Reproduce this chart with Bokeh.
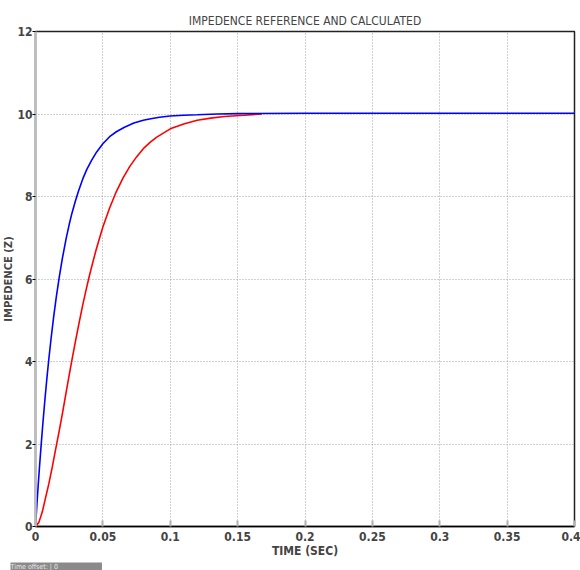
from bokeh.plotting import figure
from bokeh.models import Range1d, FixedTicker, Title
from bokeh.embed import file_html
from bokeh.resources import INLINE

# Data
t_calc = [0, 0.001, 0.002, 0.003, 0.0042, 0.0055, 0.007, 0.0085, 0.0098, 0.0115,
          0.0135, 0.0155, 0.0176, 0.02, 0.0228, 0.025, 0.027, 0.0295, 0.0318, 0.035,
          0.038, 0.0415, 0.0454, 0.05, 0.055, 0.06, 0.066, 0.073, 0.08, 0.0846,
          0.092, 0.1, 0.11, 0.12, 0.135, 0.15, 0.2, 0.3, 0.4]
z_calc = [0, 0.51, 1.0, 1.46, 1.98, 2.51, 3.08, 3.61, 4.03, 4.54,
          5.09, 5.58, 6.04, 6.51, 6.99, 7.32, 7.59, 7.88, 8.12, 8.42,
          8.65, 8.87, 9.08, 9.28, 9.45, 9.57, 9.68, 9.78, 9.85, 9.88,
          9.92, 9.95, 9.97, 9.98, 10.0, 10.01, 10.02, 10.02, 10.02]

t_ref = [0, 0.0025, 0.005, 0.0075, 0.01, 0.0125, 0.015, 0.0175, 0.02, 0.0225,
         0.025, 0.0275, 0.03, 0.0325, 0.035, 0.0375, 0.04, 0.0425, 0.045, 0.0475,
         0.05, 0.055, 0.06, 0.065, 0.07, 0.075, 0.08, 0.085, 0.09, 0.1,
         0.11, 0.12, 0.13, 0.14, 0.155, 0.168]
z_ref = [0, 0.1, 0.35, 0.7, 1.05, 1.45, 1.88, 2.3, 2.74, 3.21,
         3.67, 4.12, 4.55, 4.96, 5.36, 5.73, 6.08, 6.4, 6.71, 6.99,
         7.26, 7.72, 8.12, 8.45, 8.73, 8.96, 9.16, 9.31, 9.44, 9.64,
         9.76, 9.85, 9.9, 9.94, 9.97, 10.0]

x_ticks = [0, 0.05, 0.1, 0.15, 0.2, 0.25, 0.3, 0.35, 0.4]
x_tick_labels = ["0", "0.05", "0.1", "0.15", "0.2", "0.25", "0.3", "0.35", "0.4"]
y_ticks = [0, 2, 4, 6, 8, 10, 12]

NARROW = "DejaVu Sans Condensed, Liberation Sans Narrow, Liberation Sans"

p = figure(width=580, height=570, output_backend="svg", toolbar_location=None,
           x_range=Range1d(0, 0.4), y_range=Range1d(0, 12),
           min_border_left=24, min_border_right=6, min_border_top=31, min_border_bottom=40)

p.title.text = "IMPEDENCE REFERENCE AND CALCULATED"
p.title.align = "center"
p.title.text_font = NARROW
p.title.text_font_size = "12px"
p.title.text_font_style = "normal"
p.title.standoff = 7

p.outline_line_color = "#222222"
p.outline_line_width = 1.5
p.background_fill_color = "white"
p.border_fill_color = "white"

xa = p.xaxis[0]
xa.ticker = FixedTicker(ticks=x_ticks)
xa.major_label_overrides = {v: s for v, s in zip(x_ticks, x_tick_labels)}
xa.axis_label = "TIME (SEC)"
xa.axis_label_text_font = NARROW
xa.axis_label_text_font_style = "bold"
xa.axis_label_text_font_size = "12px"
xa.axis_label_standoff = 0
xa.major_label_text_font = NARROW
xa.major_label_text_font_style = "bold"
xa.major_label_text_font_size = "12px"
xa.major_label_standoff = 5
xa.major_tick_in = 6
xa.major_tick_out = 0
xa.major_tick_line_color = "#b0b0b0"
xa.major_tick_line_width = 2
xa.minor_tick_line_color = None
xa.axis_line_color = "black"
xa.axis_line_width = 1.5

ya = p.yaxis[0]
ya.ticker = FixedTicker(ticks=y_ticks)
ya.axis_label = "IMPEDENCE (Z)"
ya.axis_label_text_font = "DejaVu Sans"
ya.axis_label_text_font_style = "bold"
ya.axis_label_text_font_size = "10px"
ya.axis_label_standoff = 0
ya.major_label_text_font = NARROW
ya.major_label_text_font_style = "bold"
ya.major_label_text_font_size = "12px"
ya.major_label_standoff = 0
ya.major_tick_in = 0
ya.major_tick_out = 3
ya.major_tick_line_color = "black"
ya.minor_tick_line_color = None
ya.axis_line_color = "#bdbdbd"
ya.axis_line_width = 2.5

for g in (p.xgrid[0], p.ygrid[0]):
    g.grid_line_color = "#a0a0a0"
    g.grid_line_dash = "1 2"
    g.grid_line_width = 1

p.line(t_ref, z_ref, line_color="#ff0000", line_width=1.6)
p.line(t_calc, z_calc, line_color="#0000ff", line_width=1.6)

offset_box = Title(text="Time offset: | 0" + "\u00a0" * 22, align="left", offset=-25,
                   text_font=NARROW, text_font_size="7px", text_font_style="normal",
                   text_color="#e8e8e8", background_fill_color="#8a8a8a", standoff=0)
p.add_layout(offset_box, "below")

open("out.html", "w").write(file_html(p, INLINE))
